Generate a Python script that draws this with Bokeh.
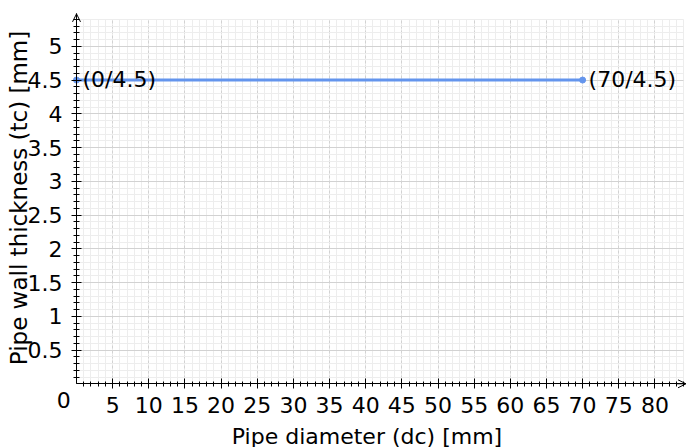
from bokeh.plotting import figure
from bokeh.models import (SingleIntervalTicker, FixedTicker, LinearAxis, Grid,
                          Arrow, OpenHead)
from bokeh.core.properties import value
from bokeh.embed import file_html
from bokeh.resources import INLINE

# ---- data ----
x_vals = [0, 70]
y_vals = [4.5, 4.5]
point_labels = ["(0/4.5)", "(70/4.5)"]
x_tick_values = [5, 10, 15, 20, 25, 30, 35, 40, 45, 50, 55, 60, 65, 70, 75, 80]
x_minor_values = list(range(1, 85))
y_tick_values = [0.5, 1, 1.5, 2, 2.5, 3, 3.5, 4, 4.5, 5]
y_tick_labels = ["0.5", "1", "1.5", "2", "2.5", "3", "3.5", "4", "4.5", "5"]
y_minor_values = [round(i * 0.1, 1) for i in range(1, 55)]
origin_label = ["0"]
x_title = "Pipe diameter (dc) [mm]"
y_title = "Pipe wall thickness (tc) [mm]"

# axis extents (data units)
X_MAX_GRID, Y_MAX_GRID = 84.0, 5.4
X_AXIS_END, Y_AXIS_END = 84.3, 5.48

FONT = "DejaVu Sans"
FS = "22px"
BLUE = "#6495ED"

p = figure(width=686, height=447, output_backend="svg", toolbar_location=None,
           x_axis_type=None, y_axis_type=None,
           x_range=(-10.512, 84.37), y_range=(-0.9437, 5.6785),
           min_border=0)
p.outline_line_color = None
p.background_fill_color = "white"
p.border_fill_color = "white"

# ---- grids ----
gx_t = SingleIntervalTicker(interval=5, num_minor_ticks=5)
gy_t = SingleIntervalTicker(interval=0.5, num_minor_ticks=5)
xgrid = Grid(dimension=0, ticker=gx_t, bounds=(0, X_MAX_GRID),
             grid_line_color="#d2d2d2", grid_line_dash="3 2",
             minor_grid_line_color="#ededed")
ygrid = Grid(dimension=1, ticker=gy_t, bounds=(0, Y_MAX_GRID),
             grid_line_color="#d2d2d2", minor_grid_line_color="#ededed")
has_cross = "cross_bounds" in Grid.properties()
if has_cross:
    xgrid.cross_bounds = (0, Y_MAX_GRID)
    ygrid.cross_bounds = (0, X_MAX_GRID)
p.add_layout(xgrid)
p.add_layout(ygrid)
if not has_cross:
    x0, x1 = p.x_range.start, p.x_range.end
    y0, y1 = p.y_range.start, p.y_range.end
    p.quad(left=[x0, x0, 0, X_MAX_GRID], right=[0, x1, x1, x1],
           bottom=[y0, y0, Y_MAX_GRID, y0], top=[y1, 0, y1, y1],
           fill_color="white", line_color=None)

# ---- axes (fixed at the origin) ----
xaxis = LinearAxis(fixed_location=0, bounds=(0, X_AXIS_END),
                   ticker=FixedTicker(ticks=x_tick_values, minor_ticks=x_minor_values))
xaxis.axis_line_color = "black"
xaxis.major_tick_line_color = "black"
xaxis.minor_tick_line_color = "black"
xaxis.major_tick_in = 5
xaxis.major_tick_out = 5
xaxis.minor_tick_in = 2
xaxis.minor_tick_out = 3
xaxis.major_label_text_font = FONT
xaxis.major_label_text_font_size = FS
xaxis.major_label_text_color = "black"
xaxis.major_label_standoff = 8
p.add_layout(xaxis, "below")

# y axis: minor ticks
yaxis_minor = LinearAxis(fixed_location=0, bounds=(0, Y_AXIS_END),
                         ticker=FixedTicker(ticks=[], minor_ticks=y_minor_values))
yaxis_minor.axis_line_color = "black"
yaxis_minor.minor_tick_line_color = "black"
yaxis_minor.minor_tick_in = 3
yaxis_minor.minor_tick_out = 3
p.add_layout(yaxis_minor, "left")
# y axis: major ticks
yaxis_major = LinearAxis(fixed_location=0, bounds=(0, Y_AXIS_END),
                         ticker=FixedTicker(ticks=[], minor_ticks=y_tick_values))
yaxis_major.axis_line_color = "black"
yaxis_major.minor_tick_line_color = "black"
yaxis_major.minor_tick_in = 5
yaxis_major.minor_tick_out = 5
p.add_layout(yaxis_major, "left")

# y tick labels
p.text([0] * len(y_tick_values), y_tick_values, text=y_tick_labels,
       x_offset=-14, y_offset=0, text_font=value(FONT), text_font_size=value(FS),
       text_color="black", text_align="right", text_baseline="alphabetic")
# origin label
p.text([0], [0], text=origin_label, x_offset=-12.7, y_offset=16,
       text_font=value(FONT), text_font_size=value(FS), text_color="black",
       text_align="center", text_baseline="middle")

# ---- data line ----
p.line(x_vals, y_vals, line_color=BLUE, line_width=3)
p.scatter(x_vals, y_vals, size=6, fill_color=BLUE, line_color=BLUE)
p.text(x_vals, y_vals, text=point_labels, x_offset=6, y_offset=-1,
       text_font=value(FONT), text_font_size=value(FS), text_color="black",
       text_align="left", text_baseline="alphabetic")

# ---- axis titles ----
p.text([40.18], [-0.776], text=[x_title], text_font=value(FONT),
       text_font_size=value(FS), text_color="black",
       text_align="center", text_baseline="middle")
p.text([-7.9], [2.753], text=[y_title], angle=1.5707963, text_font=value(FONT),
       text_font_size=value("23px"), text_color="black",
       text_align="center", text_baseline="middle")

# ---- axis arrows ----
p.add_layout(Arrow(end=OpenHead(size=8, line_width=1, line_color="black"),
                   x_start=0, y_start=5.3, x_end=0, y_end=Y_AXIS_END,
                   line_color="black", line_width=1))
p.add_layout(Arrow(end=OpenHead(size=8, line_width=1, line_color="black"),
                   x_start=83, y_start=0, x_end=X_AXIS_END, y_end=0,
                   line_color="black", line_width=1))

open("out.html", "w").write(file_html(p, INLINE))
